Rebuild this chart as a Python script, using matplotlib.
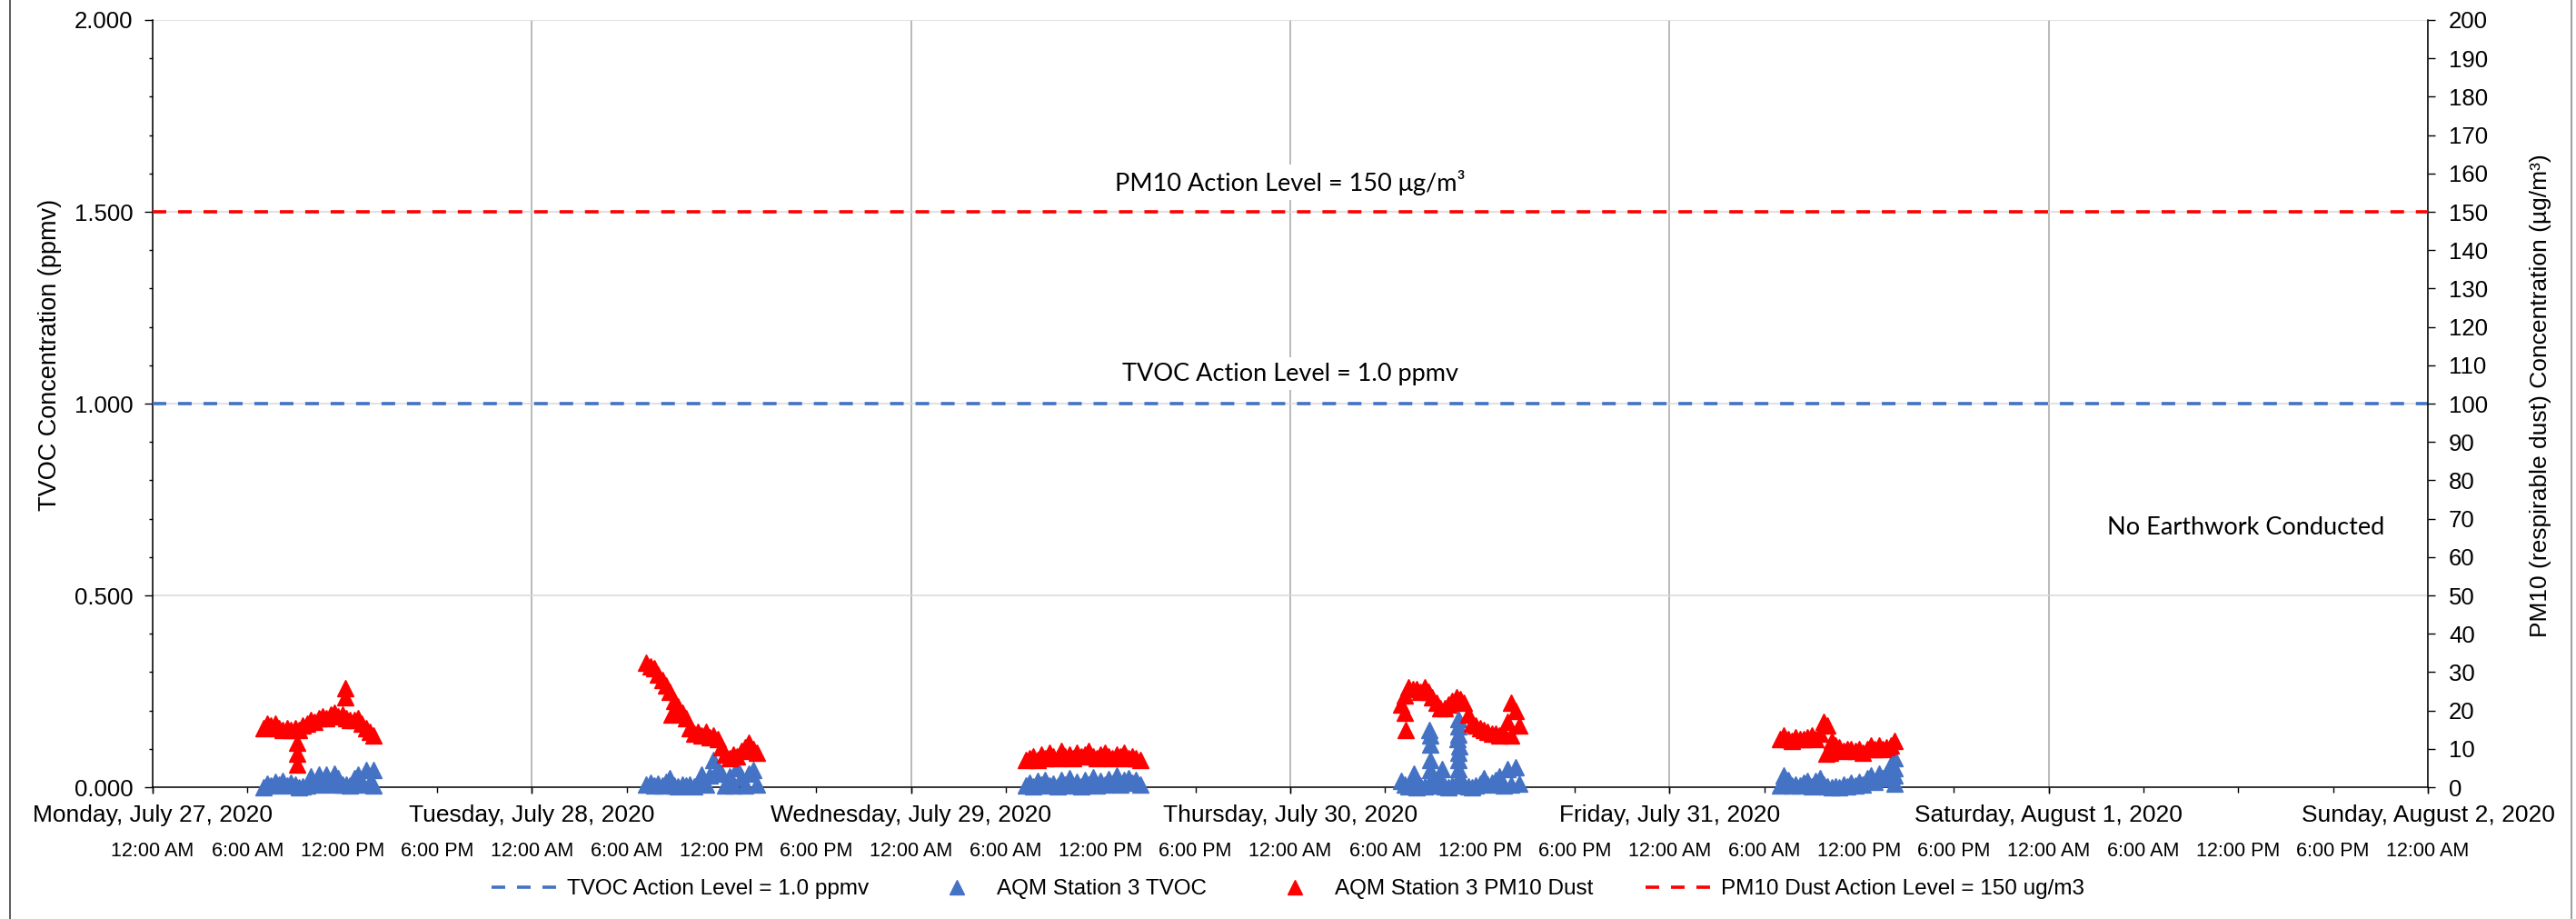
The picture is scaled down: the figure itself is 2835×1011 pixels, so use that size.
"""AQM Station 3 TVOC and PM10 dust readings, week of July 27, 2020."""

from datetime import datetime, timedelta

import matplotlib
matplotlib.use('Agg')
import matplotlib.dates as mdates
from matplotlib import pyplot as plt
from matplotlib.lines import Line2D
from matplotlib.ticker import FuncFormatter, MultipleLocator

plt.rcParams['font.family'] = ['Liberation Sans', 'DejaVu Sans']

BLUE = '#4472C4'
RED = '#FF0000'
NOTE_FONT = ['Lato', 'DejaVu Sans']

# one reading every 15 minutes, starting at each day's first sample
SAMPLE_STEP_MIN = 15
day_starts = ['2020-07-27 07:00', '2020-07-28 07:15', '2020-07-29 07:15',
              '2020-07-30 07:00', '2020-07-31 07:00']

# TVOC (ppmv)
tvoc_mon = [0.000, 0.010, 0.004, 0.014, 0.006, 0.016, 0.004, 0.012, 0.006, 0.000,
            0.002, 0.004, 0.028, 0.006, 0.032, 0.010, 0.032, 0.008, 0.036, 0.024,
            0.006, 0.008, 0.004, 0.024, 0.034, 0.006, 0.044, 0.012, 0.044]
tvoc_tue = [0.006, 0.012, 0.004, 0.010, 0.004, 0.014, 0.024, 0.004, 0.002, 0.006,
            0.004, 0.008, 0.002, 0.012, 0.034, 0.006, 0.030, 0.072, 0.050, 0.036,
            0.004, 0.028, 0.004, 0.050, 0.026, 0.004, 0.036, 0.045, 0.006]
tvoc_wed = [0.004, 0.012, 0.002, 0.016, 0.006, 0.020, 0.004, 0.010, 0.002, 0.018,
            0.006, 0.024, 0.004, 0.014, 0.002, 0.020, 0.008, 0.026, 0.004, 0.016,
            0.006, 0.022, 0.010, 0.030, 0.006, 0.018, 0.024, 0.012, 0.020, 0.008]
tvoc_thu = [0.016, 0.006, 0.002, 0.004, 0.000, 0.004, 0.002, 0.004, 0.020, 0.004,
            0.020, 0.002, 0.000, 0.004, 0.012, 0.020, 0.008, 0.002, 0.000, 0.004,
            0.010, 0.024, 0.006, 0.012, 0.020, 0.028, 0.004, 0.048, 0.006, 0.052,
            0.010]
tvoc_fri = [0.004, 0.030, 0.020, 0.004, 0.008, 0.004, 0.012, 0.016, 0.002, 0.016,
            0.024, 0.008, 0.002, 0.000, 0.002, 0.000, 0.006, 0.002, 0.012, 0.004,
            0.014, 0.006, 0.024, 0.030, 0.014, 0.036, 0.024, 0.036, 0.060, 0.075]

# PM10 dust (ug/m3)
pm10_mon = [15.5, 16.5, 16.0, 16.5, 15.5, 15.0, 15.5, 15.0, 15.5, 15.0,
            16.0, 16.5, 17.5, 17.0, 18.0, 18.5, 18.0, 19.0, 19.5, 18.5,
            19.0, 18.0, 17.5, 17.5, 18.0, 16.5, 15.5, 14.5, 13.5]
pm10_tue = [32.5, 31.5, 31.0, 29.5, 28.0, 26.5, 25.0, 22.5, 21.0, 19.5,
            18.0, 15.5, 14.0, 14.5, 13.5, 14.5, 13.0, 13.5, 12.5, 10.5,
            8.5, 7.5, 8.5, 8.0, 9.5, 10.5, 11.5, 10.0, 9.0]
pm10_wed = [7.0, 7.5, 8.0, 7.0, 8.5, 7.5, 9.0, 8.0, 7.5, 9.5,
            8.0, 8.5, 7.5, 9.0, 8.0, 8.5, 9.5, 8.0, 7.5, 8.5,
            9.0, 8.0, 7.5, 8.5, 8.0, 9.0, 7.5, 8.0, 7.5, 7.0]
pm10_thu = [21.5, 24.0, 26.0, 25.5, 25.5, 25.0, 26.0, 25.0, 23.5, 22.0,
            20.5, 20.5, 21.5, 22.5, 23.5, 23.0, 22.0, 19.0, 16.5, 16.0,
            15.5, 15.0, 14.5, 14.0, 14.0, 13.5, 14.0, 17.0, 22.0, 20.0,
            16.0]
pm10_fri = [12.5, 13.5, 12.5, 12.0, 13.0, 12.5, 12.5, 13.0, 13.5, 12.5,
            14.0, 17.0, 16.0, 12.0, 11.0, 10.5, 9.5, 10.0, 10.0, 9.5,
            10.0, 9.0, 10.0, 11.0, 10.0, 11.0, 10.0, 10.5, 11.0, 12.0]

# off-grid readings (spikes, dips) between the 15 minute samples
tvoc_extra = [('2020-07-27 14:00', 0.004),
              ('2020-07-30 07:48', 0.036), ('2020-07-30 08:49', 0.150),
              ('2020-07-30 08:50', 0.135), ('2020-07-30 08:51', 0.112),
              ('2020-07-30 08:52', 0.070), ('2020-07-30 08:53', 0.045),
              ('2020-07-30 09:37', 0.048), ('2020-07-30 10:40', 0.178),
              ('2020-07-30 10:40', 0.158), ('2020-07-30 10:38', 0.138),
              ('2020-07-30 10:36', 0.126), ('2020-07-30 10:42', 0.106),
              ('2020-07-30 10:40', 0.091), ('2020-07-30 10:40', 0.071),
              ('2020-07-30 10:38', 0.048), ('2020-07-31 14:15', 0.050),
              ('2020-07-31 14:15', 0.030), ('2020-07-31 14:15', 0.010)]
pm10_extra = [('2020-07-27 09:10', 11.5), ('2020-07-27 09:10', 8.8),
              ('2020-07-27 09:10', 6.0), ('2020-07-27 12:10', 25.8),
              ('2020-07-27 12:10', 23.5), ('2020-07-28 08:50', 19.0),
              ('2020-07-30 07:15', 19.5), ('2020-07-30 07:17', 15.0),
              ('2020-07-30 14:00', 13.5), ('2020-07-31 09:55', 8.7),
              ('2020-07-31 10:10', 9.0)]

tvoc_days = [tvoc_mon, tvoc_tue, tvoc_wed, tvoc_thu, tvoc_fri]
pm10_days = [pm10_mon, pm10_tue, pm10_wed, pm10_thu, pm10_fri]

TVOC_ACTION = 1.0
PM10_ACTION = 150
X_START = datetime(2020, 7, 27)
X_END = datetime(2020, 8, 2)


def _parse(stamp):
    return datetime.strptime(stamp, '%Y-%m-%d %H:%M')


def _series(starts, days, extra):
    times, values = [], []
    for start, vals in zip(starts, days):
        t0 = _parse(start)
        times += [t0 + timedelta(minutes=SAMPLE_STEP_MIN * i) for i in range(len(vals))]
        values += vals
    times += [_parse(s) for s, _ in extra]
    values += [v for _, v in extra]
    return times, values


def _day_label(x, pos):
    d = mdates.num2date(x)
    return f'{d:%A}, {d:%B} {d.day}, {d.year}'


def _time_label(x, pos):
    d = mdates.num2date(x + 1e-7)
    hour = d.hour % 12 or 12
    return f'{hour}:00 {"AM" if d.hour < 12 else "PM"}'


fig = plt.figure(figsize=(28.35, 10.11), dpi=100)
ax = fig.add_axes([0.05926, 0.14342, 0.88324, 0.83482])
ax2 = ax.twinx()

tvoc_t, tvoc_v = _series(day_starts, tvoc_days, tvoc_extra)
pm10_t, pm10_v = _series(day_starts, pm10_days, pm10_extra)

dash = (0, (4.15, 3.6))
h_tvoc_lvl = ax.axhline(TVOC_ACTION, color=BLUE, lw=2.6, linestyle=dash, zorder=3)
h_tvoc, = ax.plot(tvoc_t, tvoc_v, linestyle='none', marker='^', ms=12.5, color=BLUE,
                  mec=BLUE, mew=1, clip_on=False, zorder=4)
h_pm10, = ax2.plot(pm10_t, pm10_v, linestyle='none', marker='^', ms=12.5, color=RED,
                   mec=RED, mew=1, clip_on=False, zorder=4)
h_pm10_lvl = ax2.axhline(PM10_ACTION, color=RED, lw=2.6, linestyle=dash, zorder=3)

# axes and scales
ax.set_xlim(X_START, X_END)
ax.set_ylim(0, 2)
ax2.set_ylim(0, 200)

ax.xaxis.set_major_locator(mdates.DayLocator())
ax.xaxis.set_minor_locator(mdates.HourLocator(byhour=[0, 6, 12, 18]))
ax.xaxis.remove_overlapping_locs = False
ax.xaxis.set_major_formatter(FuncFormatter(_day_label))
ax.xaxis.set_minor_formatter(FuncFormatter(_time_label))

ax.yaxis.set_major_locator(MultipleLocator(0.5))
ax.yaxis.set_minor_locator(MultipleLocator(0.1))
ax.yaxis.set_major_formatter(FuncFormatter(lambda v, p: f'{v:.3f}'))
ax2.yaxis.set_major_locator(MultipleLocator(10))

ax.tick_params(axis='x', which='major', length=5, width=1, pad=9, labelsize=19)
ax.tick_params(axis='x', which='minor', length=4, width=1, pad=39, labelsize=15.5)
ax.tick_params(axis='y', which='major', length=6.5, width=1, pad=9, labelsize=18.5)
ax.tick_params(axis='y', which='minor', length=3, width=1)
ax2.tick_params(axis='y', which='major', length=5.5, width=1, pad=11, labelsize=18.5)

ax.set_axisbelow(True)
ax.yaxis.grid(True, which='major', color='#D9D9D9', lw=1.1)
ax.xaxis.grid(True, which='major', color='#A6A6A6', lw=1.1)

for a in (ax, ax2):
    a.spines['top'].set_visible(False)
ax.spines['right'].set_visible(False)
for s in ('left', 'bottom'):
    ax.spines[s].set_linewidth(1.1)
ax2.spines['right'].set_linewidth(1.1)
ax2.spines['left'].set_visible(False)
ax2.spines['bottom'].set_visible(False)

ax.set_ylabel('TVOC Concentration (ppmv)', fontsize=19.5)
ax.yaxis.set_label_coords(-0.040, 0.563)
ax2.set_ylabel('PM10 (respirable dust) Concentration (µg/m³)', fontsize=19)
ax2.yaxis.set_label_coords(1.0447, 0.511)

# notes on the chart
note_box = {'facecolor': 'white', 'edgecolor': 'none', 'pad': 4}
thu = mdates.date2num(datetime(2020, 7, 30))
ax.text(thu, 1.577, 'PM10 Action Level = 150 μg/m³', ha='center', va='center',
        fontsize=19.5, family=NOTE_FONT, bbox=note_box, zorder=3)
ax.text(thu, 1.078, 'TVOC Action Level = 1.0 ppmv', ha='center', va='center',
        fontsize=19.5, family=NOTE_FONT, bbox=note_box, zorder=3)
ax.text(mdates.date2num(datetime(2020, 8, 1, 12, 30)), 0.676, 'No Earthwork Conducted',
        ha='center', va='center', fontsize=19.5, family=NOTE_FONT)

fig.legend([h_tvoc_lvl, h_tvoc, h_pm10, h_pm10_lvl],
           ['TVOC Action Level = 1.0 ppmv', 'AQM Station 3 TVOC',
            'AQM Station 3 PM10 Dust', 'PM10 Dust Action Level = 150 ug/m3'],
           loc='center', bbox_to_anchor=(0.5, 1 - 978 / 1011), ncol=4, frameon=False,
           fontsize=17.5, handlelength=3.2, columnspacing=2.4, handletextpad=0.2,
           markerscale=0.95)

# chart area border
fig.add_artist(Line2D([11 / 2835] * 2, [0, 1], transform=fig.transFigure, color='#404040', lw=1.2))
fig.add_artist(Line2D([2830 / 2835] * 2, [0, 1], transform=fig.transFigure, color='#8C8C8C', lw=1.2))

fig.savefig('out.png', dpi=100)
